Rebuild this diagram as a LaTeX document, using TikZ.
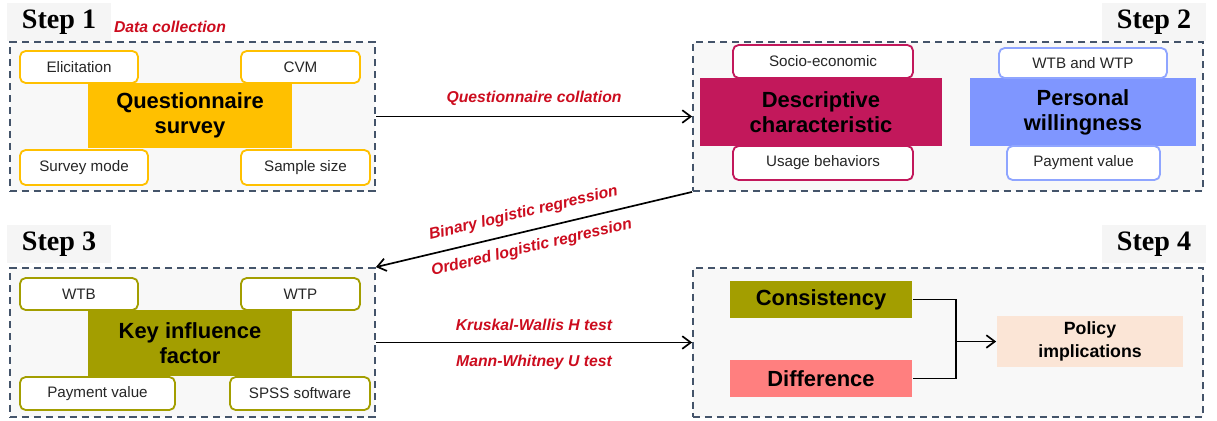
\documentclass[tikz,border=0pt]{standalone}
\usepackage{fontspec}
\setsansfont{Liberation Sans}
\newfontfamily\stepfont{Liberation Serif}
\usepackage{xcolor}
\usetikzlibrary{arrows.meta, calc, positioning}

\definecolor{framec}{HTML}{44546A}
\definecolor{panelc}{HTML}{F8F8F8}
\definecolor{stepbg}{HTML}{F5F5F5}
\definecolor{ambc}{HTML}{FFC000}
\definecolor{crimc}{HTML}{C2185B}
\definecolor{bluec}{HTML}{7F96FF}
\definecolor{blueln}{HTML}{8FA5FF}
\definecolor{olivec}{HTML}{A39E00}
\definecolor{salmc}{HTML}{FF7F7F}
\definecolor{peachc}{HTML}{FBE5D6}
\definecolor{methc}{HTML}{CC0C1E}

\begin{document}
\begin{tikzpicture}[
        font=\sffamily,
        >={Straight Barb[length=6pt,width=9pt]},
        line width=1.2pt,
        stagebox/.style={
            draw=framec, fill=panelc,
            dash pattern=on 5pt off 3.5pt,
            line width=1.3pt,
            minimum width=#1,
            minimum height=3.725cm,
            inner sep=0pt
        },
        corebox/.style={
            fill=#1, inner sep=0pt, align=center,
            font=\sffamily\bfseries\fontsize{15.6}{17.8}\selectfont
        },
        subbox/.style={
            draw=#1, fill=white,
            rounded corners=4pt,
            line width=1.3pt,
            inner sep=0pt,
            text=black!85,
            font=\sffamily\fontsize{10.8}{12}\selectfont
        },
        steplabel/.style={
            fill=stepbg, inner sep=0pt,
            minimum width=2.6cm, minimum height=0.95cm,
            font=\stepfont\bfseries\fontsize{20}{22}\selectfont
        },
        redlbl/.style={
            inner sep=0pt, text=methc,
            font=\sffamily\bfseries\itshape\fontsize{11.2}{13}\selectfont
        },
    ]

    \useasboundingbox (0,0) rectangle (30.425,-10.5);

    %============================================================
    % Step frames
    %============================================================
    \node[stagebox=9.125cm] (S1) at (4.8125,-2.9125) {};
    \node[stagebox=12.75cm] (S2) at (23.7,-2.9125) {};
    \node[stagebox=9.125cm] (S3) at (4.8125,-8.5625) {};
    \node[stagebox=12.75cm] (S4) at (23.7,-8.5625) {};

    \node[steplabel] (L1) at (1.475,-0.55) {Step 1};
    \node[steplabel] (L2) at (28.85,-0.55) {Step 2};
    \node[steplabel] (L3) at (1.475,-6.1) {Step 3};
    \node[steplabel] (L4) at (28.85,-6.1) {Step 4};

    \node[redlbl] (DC) at (4.25,-0.675) {Data collection};

    %============================================================
    % Step 1: questionnaire survey
    %============================================================
    \node[corebox=ambc, minimum width=5.1cm, minimum height=1.625cm] (QS) at (4.75,-2.8875) {Questionnaire\\survey};
    \node[subbox=ambc, minimum width=2.95cm, minimum height=0.8cm] (ELI) at (1.975,-1.675) {Elicitation};
    \node[subbox=ambc, minimum width=2.975cm, minimum height=0.8cm] (CVM) at (7.5125,-1.675) {CVM};
    \node[subbox=ambc, minimum width=3.2cm, minimum height=0.875cm] (SVM) at (2.1,-4.1875) {Survey mode};
    \node[subbox=ambc, minimum width=3.225cm, minimum height=0.875cm] (SSZ) at (7.6375,-4.1875) {Sample size};

    %============================================================
    % Step 2: descriptive characteristic / personal willingness
    %============================================================
    \node[corebox=crimc, minimum width=6.05cm, minimum height=1.7cm] (DES) at (20.525,-2.8) {Descriptive\\characteristic};
    \node[subbox=crimc, minimum width=4.5cm, minimum height=0.825cm] (SOC) at (20.575,-1.5375) {Socio-economic};
    \node[subbox=crimc, minimum width=4.5cm, minimum height=0.85cm] (USE) at (20.575,-4.075) {Usage behaviors};

    \node[corebox=bluec, minimum width=5.65cm, minimum height=1.7cm] (PW) at (27.075,-2.8) {Personal\\willingness};
    \node[subbox=blueln, minimum width=4.2cm, minimum height=0.75cm] (WW) at (27.075,-1.575) {WTB and WTP};
    \node[subbox=blueln, minimum width=3.825cm, minimum height=0.85cm] (PV2) at (27.0875,-4.075) {Payment value};

    %============================================================
    % Step 3: key influence factor
    %============================================================
    \node[corebox=olivec, minimum width=5.1cm, minimum height=1.65cm] (KIF) at (4.75,-8.575) {Key influence\\factor};
    \node[subbox=olivec, minimum width=2.95cm, minimum height=0.8cm] (WTB) at (1.975,-7.35) {WTB};
    \node[subbox=olivec, minimum width=2.975cm, minimum height=0.8cm] (WTP) at (7.5125,-7.35) {WTP};
    \node[subbox=olivec, minimum width=3.875cm, minimum height=0.825cm] (PV3) at (2.4375,-9.8375) {Payment value};
    \node[subbox=olivec, minimum width=3.5cm, minimum height=0.825cm] (SPSS) at (7.5,-9.8375) {SPSS software};

    %============================================================
    % Step 4: consistency / difference -> policy
    %============================================================
    \node[corebox=olivec, minimum width=4.55cm, minimum height=0.925cm] (CON) at (20.525,-7.4875) {Consistency};
    \node[corebox=salmc, minimum width=4.55cm, minimum height=0.925cm] (DIF) at (20.525,-9.4625) {Difference};
    \node[corebox=peachc, minimum width=4.65cm, minimum height=1.275cm,
          font=\sffamily\bfseries\fontsize{12.6}{16}\selectfont] (POL) at (27.25,-8.5375) {Policy\\implications};

    \coordinate (jx) at (23.9,-8.5);
    \draw (CON.east) -- (CON.east -| jx) -- (DIF.east -| jx) -- (DIF.east);
    \draw[->] (jx |- POL.west) -- (POL.west);

    %============================================================
    % Links between steps
    %============================================================
    \draw[->] (S1.east) -- node[redlbl, above=7pt] {Questionnaire collation} (S2.west);
    \draw[->] (S2.south west) --
        node[redlbl, sloped, pos=0.52, above=7pt] {Binary logistic regression}
        node[redlbl, sloped, pos=0.52, below=6.5pt] {Ordered logistic regression}
        (S3.north east);
    \draw[->] (S3.east) --
        node[redlbl, above=8pt] {Kruskal-Wallis H test}
        node[redlbl, below=8.3pt] {Mann-Whitney U test}
        (S4.west);

\end{tikzpicture}
\end{document}
